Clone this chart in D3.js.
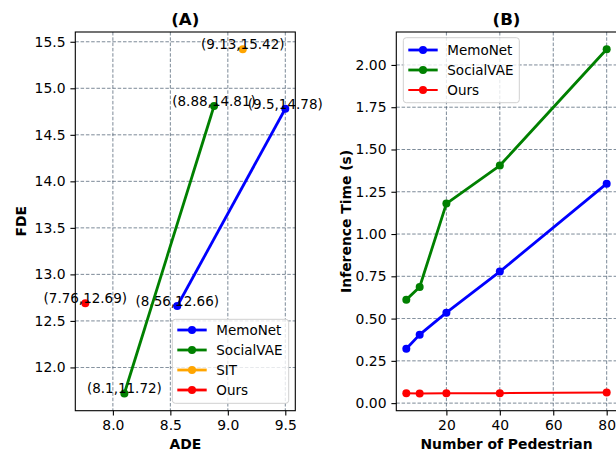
<!DOCTYPE html>
<html>
<head>
<meta charset="utf-8">
<script src="https://cdn.jsdelivr.net/npm/d3@7"></script>
<style>
  body { margin: 0; background: #fff; }
  svg { display: block; font-family: "DejaVu Sans", sans-serif; }
</style>
</head>
<body>
<div id="chart"></div>
<script>
// Panel A: ADE / FDE per method
const adeMemoNet = [8.56, 9.5];
const fdeMemoNet = [12.66, 14.78];
const adeSocialVAE = [8.1, 8.88];
const fdeSocialVAE = [11.72, 14.81];
const adeSIT = [9.13];
const fdeSIT = [15.42];
const adeOurs = [7.76];
const fdeOurs = [12.69];

// Panel B: inference time vs number of pedestrians
const pedestrians = [5, 10, 20, 40, 80];
const timeMemoNet = [0.322, 0.405, 0.535, 0.778, 1.298];
const timeSocialVAE = [0.612, 0.687, 1.18, 1.405, 2.093];
const timeOurs = [0.059, 0.057, 0.059, 0.059, 0.063];

// Tick labels
const adeTicks = [8.0, 8.5, 9.0, 9.5];
const fdeTicks = [12.0, 12.5, 13.0, 13.5, 14.0, 14.5, 15.0, 15.5];
const pedTicks = [20, 40, 60, 80];
const timeTicks = [0, 0.25, 0.5, 0.75, 1.0, 1.25, 1.5, 1.75, 2.0];

const W = 616, H = 452;
const plotTop = 32, plotBottom = 410.7;
const gridColor = "#34495e";

const svg = d3.select("#chart").append("svg")
    .attr("width", W).attr("height", H);

// matplotlib-like 5% padding
function padded(values) {
    const [lo, hi] = d3.extent(values);
    const m = (hi - lo) * 0.05;
    return [lo - m, hi + m];
}

function makePanel(cfg) {
    const g = svg.append("g");
    const x = d3.scaleLinear().domain(cfg.xDomain).range([cfg.left, cfg.right]);
    const y = d3.scaleLinear().domain(cfg.yDomain).range([plotBottom, plotTop]);

    // grid
    g.append("g").selectAll("line").data(cfg.xTicks).join("line")
        .attr("x1", d => x(d)).attr("x2", d => x(d))
        .attr("y1", plotTop).attr("y2", plotBottom)
        .attr("stroke", gridColor).attr("stroke-width", 0.8)
        .attr("stroke-dasharray", "3.5,1.8").attr("opacity", 0.8);
    g.append("g").selectAll("line").data(cfg.yTicks).join("line")
        .attr("x1", cfg.left).attr("x2", cfg.right)
        .attr("y1", d => y(d)).attr("y2", d => y(d))
        .attr("stroke", gridColor).attr("stroke-width", 0.8)
        .attr("stroke-dasharray", "3.5,1.8").attr("opacity", 0.8);

    // axes
    const xAxis = g.append("g").attr("transform", `translate(0,${plotBottom})`)
        .call(d3.axisBottom(x).tickValues(cfg.xTicks).tickFormat(d3.format(cfg.xFmt))
            .tickSize(4.9).tickPadding(4.9).tickSizeOuter(0));
    const yAxis = g.append("g").attr("transform", `translate(${cfg.left},0)`)
        .call(d3.axisLeft(y).tickValues(cfg.yTicks).tickFormat(d3.format(cfg.yFmt))
            .tickSize(4.9).tickPadding(4.9).tickSizeOuter(0));
    [xAxis, yAxis].forEach(axis => {
        axis.select(".domain").remove();
        axis.selectAll("line").attr("stroke", "#000").attr("stroke-width", 1.1);
        axis.selectAll("text").style("font-size", "13.9px")
            .style("font-family", "DejaVu Sans").attr("fill", "#000");
    });

    // frame
    g.append("rect").attr("x", cfg.left).attr("y", plotTop)
        .attr("width", cfg.right - cfg.left).attr("height", plotBottom - plotTop)
        .attr("fill", "none").attr("stroke", "#000").attr("stroke-width", 1.1);

    // labels
    const cx = (cfg.left + cfg.right) / 2;
    g.append("text").attr("x", cx).attr("y", 25).attr("text-anchor", "middle")
        .style("font-size", "16.7px").style("font-weight", "bold").text(cfg.title);
    g.append("text").attr("x", cx).attr("y", 449).attr("text-anchor", "middle")
        .style("font-size", "13.9px").style("font-weight", "bold").text(cfg.xLabel);
    g.append("text").attr("transform", `translate(${cfg.yLabelX},${(plotTop + plotBottom) / 2}) rotate(-90)`)
        .attr("text-anchor", "middle")
        .style("font-size", "13.9px").style("font-weight", "bold").text(cfg.yLabel);

    // series
    cfg.series.forEach(s => {
        const pts = s.xs.map((v, i) => [v, s.ys[i]]);
        g.append("path").datum(pts)
            .attr("fill", "none").attr("stroke", s.color).attr("stroke-width", s.lw)
            .attr("stroke-linejoin", "round")
            .attr("d", d3.line().x(d => x(d[0])).y(d => y(d[1])));
        g.append("g").selectAll("circle").data(pts).join("circle")
            .attr("cx", d => x(d[0])).attr("cy", d => y(d[1])).attr("r", 4)
            .attr("fill", s.color);
        if (cfg.annotate) {
            g.append("g").selectAll("text").data(pts).join("text")
                .attr("x", d => x(d[0])).attr("y", d => y(d[1]))
                .attr("text-anchor", "middle").style("font-size", "13.5px")
                .text(d => `(${d[0]},${d[1]})`);
        }
    });

    // legend
    const lg = cfg.legend;
    g.append("rect").attr("x", lg.x).attr("y", lg.y).attr("width", lg.w).attr("height", lg.h)
        .attr("rx", 3).attr("fill", "#fff").attr("fill-opacity", 0.8)
        .attr("stroke", "#d0d0d0").attr("stroke-width", 1);
    cfg.series.forEach((s, i) => {
        const ly = lg.y + lg.first + i * lg.step;
        g.append("line").attr("x1", lg.x + 5).attr("x2", lg.x + 34.4)
            .attr("y1", ly).attr("y2", ly)
            .attr("stroke", s.color).attr("stroke-width", s.lw);
        g.append("circle").attr("cx", lg.x + 19.7).attr("cy", ly).attr("r", 4).attr("fill", s.color);
        g.append("text").attr("x", lg.x + 44).attr("y", ly).attr("dy", "0.36em")
            .style("font-size", "13.5px").text(s.name);
    });
}

makePanel({
    title: "(A)", xLabel: "ADE", yLabel: "FDE", yLabelX: 26,
    left: 75.3, right: 295.3,
    xDomain: padded([...adeMemoNet, ...adeSocialVAE, ...adeSIT, ...adeOurs]),
    yDomain: padded([...fdeMemoNet, ...fdeSocialVAE, ...fdeSIT, ...fdeOurs]),
    xTicks: adeTicks, yTicks: fdeTicks, xFmt: ".1f", yFmt: ".1f",
    annotate: true,
    series: [
        { name: "MemoNet", xs: adeMemoNet, ys: fdeMemoNet, color: "blue", lw: 2.8 },
        { name: "SocialVAE", xs: adeSocialVAE, ys: fdeSocialVAE, color: "green", lw: 2.8 },
        { name: "SIT", xs: adeSIT, ys: fdeSIT, color: "orange", lw: 2.8 },
        { name: "Ours", xs: adeOurs, ys: fdeOurs, color: "red", lw: 2.8 }
    ],
    legend: { x: 172.3, y: 319.3, w: 116.4, h: 84, first: 10.7, step: 20 }
});

makePanel({
    title: "(B)", xLabel: "Number of Pedestrian", yLabel: "Inference Time (s)", yLabelX: 351,
    left: 396.3, right: 616.7,
    xDomain: padded(pedestrians),
    yDomain: padded([...timeMemoNet, ...timeSocialVAE, ...timeOurs]),
    xTicks: pedTicks, yTicks: timeTicks, xFmt: "d", yFmt: ".2f",
    annotate: false,
    series: [
        { name: "MemoNet", xs: pedestrians, ys: timeMemoNet, color: "blue", lw: 2.8 },
        { name: "SocialVAE", xs: pedestrians, ys: timeSocialVAE, color: "green", lw: 2.8 },
        { name: "Ours", xs: pedestrians, ys: timeOurs, color: "red", lw: 2 }
    ],
    legend: { x: 403.3, y: 37.7, w: 116, h: 65, first: 12.3, step: 20 }
});
</script>
</body>
</html>
